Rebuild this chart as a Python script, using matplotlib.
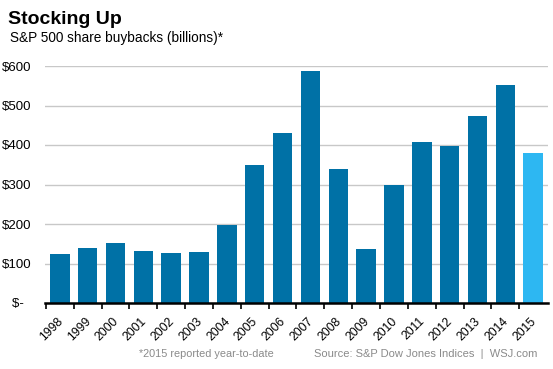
import matplotlib
matplotlib.use("Agg")
import matplotlib.pyplot as plt
import matplotlib.transforms as mtransforms

YEARS = [str(y) for y in range(1998, 2016)]
BUYBACKS = [125, 140, 151, 131, 126, 129, 197, 349, 430, 588, 339, 137, 298, 408, 398, 474, 552, 380]
YTICKS = [0, 100, 200, 300, 400, 500, 600]
YLABELS = ["$-  ", "$100", "$200", "$300", "$400", "$500", "$600"]

plt.rcParams["font.family"] = ["Liberation Sans", "DejaVu Sans"]

fig = plt.figure(figsize=(5.53, 3.69), dpi=100)
ax = fig.add_axes([45 / 553, (369 - 303) / 369, (548 - 45) / 553, (303 - 66) / 369])

colors = ["#0071a6"] * (len(YEARS) - 1) + ["#2db7f2"]
x = list(range(len(YEARS)))
ax.bar(x, BUYBACKS, width=0.7, color=colors, zorder=3)

ax.set_ylim(0, 600)
ax.set_xlim(-0.53, len(YEARS) - 0.47)
ax.set_yticks(YTICKS)
ax.set_yticklabels(YLABELS, fontsize=9.5)
ax.tick_params(axis="y", length=0, pad=10)
ax.grid(axis="y", color="#c8c8c8", lw=1, zorder=0)

ax.set_xticks([i - 0.5 for i in x], minor=False)
ax.set_xticklabels([])
ax.set_xticks(x, minor=True)
ax.set_xticklabels(YEARS, minor=True, rotation=45, ha="right", va="top",
                   rotation_mode="anchor", fontsize=8.7)
ax.tick_params(axis="x", which="major", length=4, width=1.2, color="black", direction="out")
ax.tick_params(axis="x", which="minor", length=0, pad=9)
shift = mtransforms.ScaledTranslation(-3 / 100, 0, fig.dpi_scale_trans)
for lab in ax.get_xticklabels(minor=True):
    lab.set_transform(lab.get_transform() + shift)

for s in ("top", "right", "left"):
    ax.spines[s].set_visible(False)
ax.spines["bottom"].set_linewidth(1.8)
ax.spines["bottom"].set_zorder(4)

fig.text(8 / 553, 1 - 19 / 369, "Stocking Up", fontsize=14, fontweight="bold",
         va="center", ha="left")
fig.text(10 / 553, 1 - 38 / 369, "S&P 500 share buybacks (billions)*", fontsize=9.8,
         va="center", ha="left")
fig.text(139 / 553, 1 - 354 / 369, "*2015 reported year-to-date", fontsize=7.8,
         color="#8a8a8a", va="center", ha="left")
fig.text(537 / 553, 1 - 354 / 369, "Source: S&P Dow Jones Indices  |  WSJ.com", fontsize=8,
         color="#8a8a8a", va="center", ha="right")

fig.savefig("out.png", dpi=100)
